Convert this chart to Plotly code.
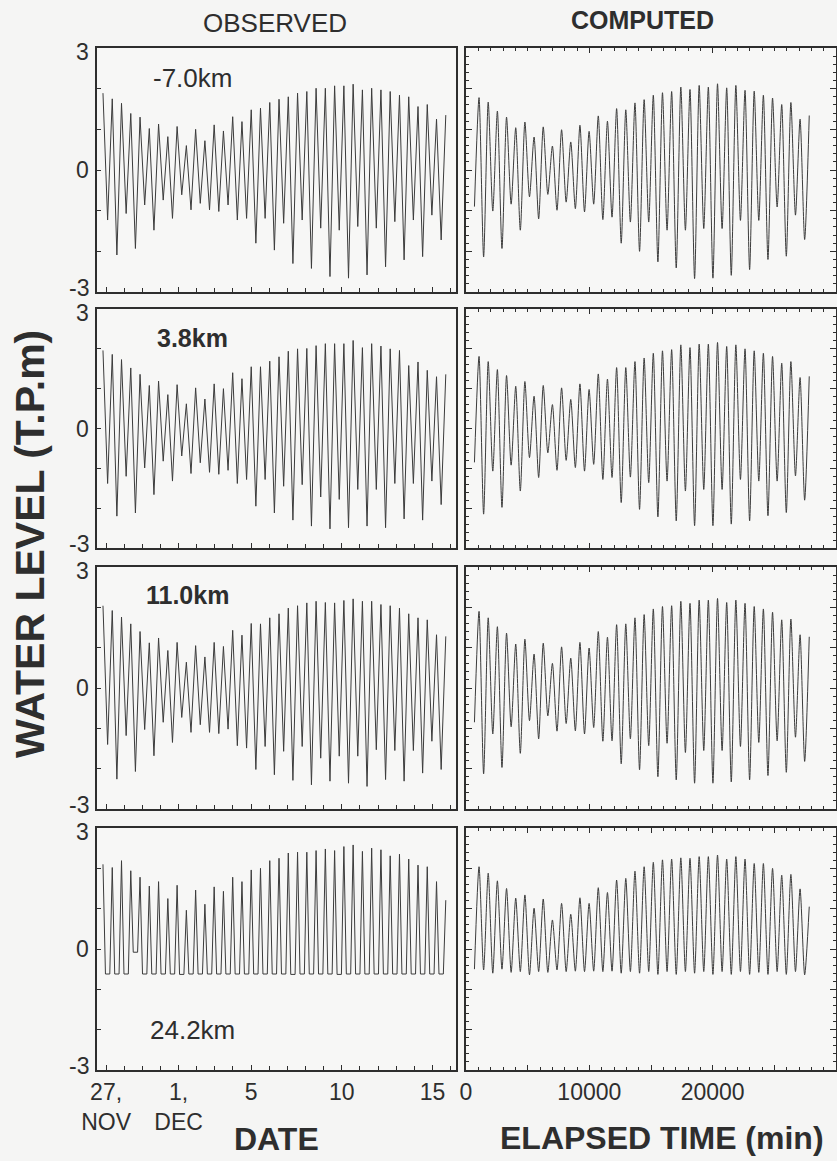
import numpy as np
import plotly.graph_objects as go

# ---------------- DATA ----------------
stations = ["-7.0km", "3.8km", "11.0km", "24.2km"]

# Observed: high / low water levels (T.P. m), time axis in days from 27 Nov 00:00
obs_first_high_day = -0.17
obs_half_period_day = 0.2555

obs_high_m70 = [1.89, 1.75, 1.64, 1.39, 1.30, 1.02, 1.13, 0.82, 1.07, 0.60, 1.00, 0.72, 1.11, 0.96,
                1.31, 1.19, 1.48, 1.52, 1.66, 1.74, 1.80, 1.89, 1.93, 2.01, 2.01, 2.07, 2.07, 2.11,
                1.97, 2.01, 1.97, 1.93, 1.84, 1.80, 1.56, 1.61, 1.25, 1.35]
obs_low_m70 = [-1.23, -2.09, -1.07, -1.93, -0.86, -1.48, -0.74, -1.19, -0.61, -0.98, -0.82, -0.98,
               -1.02, -0.86, -1.23, -1.19, -1.80, -1.19, -1.97, -1.31, -2.30, -1.23, -2.42, -1.43,
               -2.62, -1.48, -2.66, -1.39, -2.58, -1.43, -2.38, -1.27, -2.21, -1.23, -2.13, -1.11, -1.72]

obs_high_38 = [1.96, 1.86, 1.73, 1.52, 1.36, 1.08, 1.19, 0.85, 1.10, 0.62, 1.02, 0.74, 1.12, 1.00,
               1.40, 1.25, 1.55, 1.55, 1.69, 1.80, 1.94, 2.00, 2.01, 2.08, 2.13, 2.13, 2.13, 2.21,
               2.03, 2.13, 2.07, 2.00, 1.96, 1.58, 1.67, 1.46, 1.30, 1.36]
obs_low_38 = [-1.38, -2.20, -1.20, -2.12, -0.99, -1.66, -0.82, -1.32, -0.69, -1.13, -0.86, -1.10,
              -1.15, -1.05, -1.38, -1.28, -1.95, -1.28, -2.12, -1.45, -2.30, -1.41, -2.45, -1.72,
              -2.52, -1.78, -2.49, -1.53, -2.45, -1.53, -2.49, -1.38, -2.27, -1.38, -2.30, -1.32, -1.91]

obs_high_110 = [2.04, 1.92, 1.76, 1.59, 1.40, 1.12, 1.24, 0.93, 1.13, 0.64, 1.05, 0.77, 1.13, 1.03,
                1.43, 1.31, 1.60, 1.59, 1.74, 1.84, 1.98, 2.04, 2.11, 2.15, 2.12, 2.11, 2.17, 2.21,
                2.15, 2.15, 2.07, 2.04, 1.98, 1.84, 1.74, 1.69, 1.32, 1.28]
obs_low_110 = [-1.40, -2.26, -1.18, -2.07, -1.03, -1.68, -0.85, -1.35, -0.73, -1.10, -0.91, -1.10,
               -1.13, -1.02, -1.43, -1.49, -2.02, -1.45, -2.15, -1.57, -2.29, -1.45, -2.40, -1.74,
               -2.31, -1.69, -2.36, -1.69, -2.44, -1.53, -2.27, -1.55, -2.31, -1.55, -2.11, -1.32, -2.02]

obs_high_242 = [2.10, 2.02, 2.19, 1.94, 1.78, 1.56, 1.67, 1.25, 1.58, 0.96, 1.46, 1.11, 1.54, 1.43,
                1.78, 1.67, 1.96, 2.00, 2.19, 2.25, 2.38, 2.40, 2.40, 2.44, 2.48, 2.44, 2.54, 2.58,
                2.42, 2.50, 2.46, 2.31, 2.35, 2.23, 2.08, 2.04, 1.67, 1.21]
obs_low_242 = [-0.62, -0.62, -0.62, -0.08, -0.62, -0.62, -0.62, -0.62, -0.63, -0.62, -0.62, -0.62,
               -0.62, -0.62, -0.62, -0.62, -0.62, -0.62, -0.62, -0.62, -0.63, -0.62, -0.62, -0.62,
               -0.62, -0.63, -0.62, -0.62, -0.62, -0.62, -0.62, -0.62, -0.62, -0.62, -0.62, -0.62, -0.62]
obs_floor_halfwidth_day = 0.12   # the 24.2 km gauge stays at its floor between tides

# Computed: elapsed time in minutes; lows list starts with the initial level
comp_first_high_min = 1057
comp_half_period_min = 371.85

comp_high_m70 = [1.78, 1.67, 1.45, 1.30, 1.04, 1.18, 0.81, 1.06, 0.59, 0.99, 0.69, 1.10, 0.95,
                 1.33, 1.20, 1.51, 1.48, 1.65, 1.73, 1.84, 1.90, 1.93, 2.04, 1.98, 2.08, 2.04,
                 2.12, 2.02, 2.08, 1.96, 1.94, 1.84, 1.77, 1.61, 1.66, 1.25, 1.34]
comp_low_m70 = [-0.90, -2.14, -1.01, -1.93, -0.84, -1.48, -0.66, -1.20, -0.60, -0.99, -0.79, -0.95,
                -1.03, -0.84, -1.22, -1.16, -1.80, -1.28, -2.00, -1.28, -2.26, -1.48, -2.41, -1.48,
                -2.67, -1.44, -2.66, -1.44, -2.59, -1.24, -2.45, -1.24, -2.20, -0.91, -2.12, -1.11, -1.71]

comp_high_38 = [1.81, 1.68, 1.48, 1.33, 1.06, 1.18, 0.81, 1.08, 0.60, 1.02, 0.73, 1.12, 0.98,
                1.37, 1.24, 1.53, 1.53, 1.68, 1.77, 1.89, 1.95, 1.98, 2.10, 2.03, 2.12, 2.12,
                2.16, 2.06, 2.10, 2.00, 1.95, 1.89, 1.81, 1.64, 1.68, 1.28, 1.31]
comp_low_38 = [-0.85, -2.15, -1.07, -1.98, -0.92, -1.57, -0.73, -1.23, -0.61, -1.05, -0.80, -0.98,
               -1.07, -0.90, -1.28, -1.23, -1.86, -1.22, -2.03, -1.36, -2.22, -1.32, -2.32, -1.57,
               -2.44, -1.53, -2.44, -1.53, -2.40, -1.28, -2.32, -1.32, -2.19, -1.32, -2.11, -1.19, -1.80]

comp_high_110 = [1.90, 1.74, 1.52, 1.36, 1.09, 1.21, 0.84, 1.11, 0.61, 1.02, 0.74, 1.13, 0.99,
                 1.40, 1.26, 1.57, 1.59, 1.74, 1.82, 1.96, 2.02, 2.04, 2.15, 2.10, 2.18, 2.18,
                 2.22, 2.12, 2.18, 2.10, 2.02, 1.96, 1.88, 1.69, 1.71, 1.32, 1.27]
comp_low_110 = [-0.85, -2.13, -1.14, -1.97, -0.96, -1.62, -0.81, -1.26, -0.69, -1.07, -0.88, -1.06,
                -1.14, -0.98, -1.32, -1.31, -1.88, -1.26, -2.03, -1.43, -2.20, -1.37, -2.28, -1.60,
                -2.36, -1.55, -2.36, -1.55, -2.33, -1.45, -2.28, -1.35, -2.17, -1.31, -2.09, -1.22, -1.82]

comp_high_242 = [2.04, 1.88, 1.69, 1.50, 1.26, 1.34, 1.01, 1.24, 0.72, 1.13, 0.86, 1.27, 1.13,
                 1.52, 1.40, 1.71, 1.75, 1.93, 2.04, 2.15, 2.21, 2.23, 2.26, 2.25, 2.29, 2.29,
                 2.33, 2.23, 2.29, 2.23, 2.12, 2.12, 2.00, 1.83, 1.85, 1.49, 1.05]
comp_low_242 = [-0.50, -0.52, -0.60, -0.50, -0.58, -0.56, -0.64, -0.56, -0.58, -0.52, -0.56, -0.55,
                -0.56, -0.55, -0.56, -0.55, -0.60, -0.56, -0.60, -0.56, -0.63, -0.56, -0.63, -0.56,
                -0.60, -0.56, -0.63, -0.56, -0.63, -0.56, -0.63, -0.58, -0.63, -0.56, -0.63, -0.56, -0.64]

obs_highs = [obs_high_m70, obs_high_38, obs_high_110, obs_high_242]
obs_lows = [obs_low_m70, obs_low_38, obs_low_110, obs_low_242]
comp_highs = [comp_high_m70, comp_high_38, comp_high_110, comp_high_242]
comp_lows = [comp_low_m70, comp_low_38, comp_low_110, comp_low_242]

date_tickvals = [0, 4, 8, 13, 18]
date_ticktext = ["27,<br>NOV", "1,<br>DEC", "5", "10", "15"]
elapsed_tickvals = [0, 5000, 10000, 15000, 20000, 25000, 30000]
elapsed_ticktext = ["0", "", "10000", "", "20000", "", ""]
level_tickvals = [-3, 0, 3]
level_ticktext = ["-3", "0", "3"]

# ---------------- helpers ----------------
W, H = 837, 1161
def fx(px): return px / W
def fy(px): return 1 - px / H

def obs_series(highs, lows, floor=False):
    t, v = [], []
    for i, h in enumerate(highs):
        th = obs_first_high_day + 2 * i * obs_half_period_day
        t.append(th); v.append(h)
        if i < len(lows):
            tl = th + obs_half_period_day
            if floor:
                t += [tl - obs_floor_halfwidth_day, tl + obs_floor_halfwidth_day]
                v += [lows[i], lows[i]]
            else:
                t.append(tl); v.append(lows[i])
    return t, v

def comp_series(highs, lows):
    t, v = [], []
    for i, h in enumerate(highs):
        th = comp_first_high_min + 2 * i * comp_half_period_min
        t.append(th - comp_half_period_min); v.append(lows[i])
        t.append(th); v.append(h)
    return t, v

rows_px = [(48, 292), (309, 548), (567, 809), (828, 1070)]
left_px = (97, 456)
right_px = (466, 836)

fig = go.Figure()
INK = "#2e2e2e"
LINE = "#3c3c3c"
FONT = "Arial, Liberation Sans, sans-serif"
TICKFONT = dict(family=FONT, size=23, color=INK)

for r in range(4):
    top, bot = rows_px[r]
    ydom = [fy(bot), fy(top)]
    n_left = 2 * r + 1
    n_right = 2 * r + 2
    sfx_l = str(n_left) if n_left > 1 else ""
    xa_l, ya_l = "xaxis" + sfx_l, "yaxis" + sfx_l
    xa_r, ya_r = f"xaxis{n_right}", f"yaxis{n_right}"
    xr_l, yr_l = "x" + sfx_l, "y" + sfx_l
    xr_r, yr_r = f"x{n_right}", f"y{n_right}"

    t, v = obs_series(obs_highs[r], obs_lows[r], floor=(r == 3))
    fig.add_trace(go.Scatter(x=t, y=v, mode="lines", line=dict(color=LINE, width=1),
                             xaxis=xr_l, yaxis=yr_l, showlegend=False, hoverinfo="skip"))
    t, v = comp_series(comp_highs[r], comp_lows[r])
    fig.add_trace(go.Scatter(x=t, y=v, mode="lines",
                             line=dict(color=LINE, width=1, shape="spline", smoothing=0.7),
                             xaxis=xr_r, yaxis=yr_r, showlegend=False, hoverinfo="skip"))

    bottom = (r == 3)
    fig.layout[xa_l] = dict(domain=[fx(left_px[0]), fx(left_px[1])], anchor=yr_l,
                            range=[-0.5, 19.3], showgrid=False, zeroline=False, automargin=False,
                            showline=True, linecolor=INK, linewidth=2, mirror=True,
                            ticks="inside", ticklen=5, tickcolor=INK, tickwidth=1,
                            tickvals=date_tickvals, ticktext=date_ticktext,
                            showticklabels=bottom, tickfont=TICKFONT,
                            minor=dict(dtick=1, tick0=0, ticks="inside", ticklen=4,
                                       tickcolor=INK, tickwidth=1))
    fig.layout[ya_l] = dict(domain=ydom, anchor=xr_l, range=[-3, 3], showgrid=False,
                            zeroline=False, automargin=False, showline=True, linecolor=INK,
                            linewidth=2, mirror=True, ticks="inside", ticklen=4, tickcolor=INK,
                            tickvals=level_tickvals, showticklabels=False,
                            minor=dict(dtick=1, tick0=0, ticks="inside", ticklen=4,
                                       tickcolor=INK, tickwidth=1))
    fig.layout[xa_r] = dict(domain=[fx(right_px[0]), fx(right_px[1])], anchor=yr_r,
                            range=[0, 30000], showgrid=False, zeroline=False, automargin=False,
                            showline=True, linecolor=INK, linewidth=2, mirror="allticks",
                            ticks="inside", ticklen=5, tickcolor=INK, tickwidth=1,
                            tickvals=elapsed_tickvals, ticktext=elapsed_ticktext,
                            showticklabels=bottom, tickfont=TICKFONT,
                            minor=dict(dtick=1000, tick0=0, ticks="inside", ticklen=3,
                                       tickcolor=INK, tickwidth=1))
    fig.layout[ya_r] = dict(domain=ydom, anchor=xr_r, range=[-3, 3], showgrid=False,
                            zeroline=False, automargin=False, showline=True, linecolor=INK,
                            linewidth=2, mirror="allticks", ticks="inside", ticklen=6,
                            tickcolor=INK, dtick=1, tick0=0, showticklabels=False,
                            minor=dict(dtick=0.2, tick0=0, ticks="inside", ticklen=3,
                                       tickcolor=INK, tickwidth=1))

    # y tick labels of the observed panels ("3" sits just under the top, "-3" just above the bottom)
    for val, txt in zip(level_tickvals, level_ticktext):
        shift = {3: -4, 0: 0, -3: 4}[val]
        fig.add_annotation(text=txt, x=fx(91), xref="paper", y=val, yref=yr_l,
                           xanchor="right", yanchor="middle", yshift=shift, showarrow=False,
                           font=TICKFONT)

annots = [
    dict(text="OBSERVED", x=fx(275), y=fy(23), size=26, bold=False),
    dict(text="COMPUTED", x=fx(642), y=fy(20), size=25, bold=True),
    dict(text=stations[0], x=fx(192), y=fy(78), size=26, bold=False),
    dict(text=stations[1], x=fx(192), y=fy(338), size=25, bold=True),
    dict(text=stations[2], x=fx(187), y=fy(595), size=25, bold=True),
    dict(text=stations[3], x=fx(192), y=fy(1030), size=26, bold=False),
    dict(text="DATE", x=fx(276), y=fy(1139), size=32, bold=True),
    dict(text="ELAPSED TIME (min)", x=fx(662), y=fy(1138), size=32, bold=True),
]
for a in annots:
    txt = f"<b>{a['text']}</b>" if a["bold"] else a["text"]
    fig.add_annotation(text=txt, x=a["x"], y=a["y"], xref="paper", yref="paper",
                       xanchor="center", yanchor="middle", showarrow=False,
                       font=dict(family=FONT, size=a["size"], color=INK))
fig.add_annotation(text="<b>WATER LEVEL (T.P.m)</b>", x=fx(30), y=fy(544), xref="paper",
                   yref="paper", xanchor="center", yanchor="middle", showarrow=False,
                   textangle=-90, font=dict(family=FONT, size=41, color=INK))

fig.update_layout(width=W, height=H, margin=dict(l=0, r=0, t=0, b=0, pad=0, autoexpand=False),
                  paper_bgcolor="#f5f5f4", plot_bgcolor="#f7f7f6",
                  font=dict(family=FONT, color=INK))

fig.write_html("out.html", config={"displayModeBar": False},
               post_script="document.body.style.margin='0';document.body.style.overflow='hidden';")
